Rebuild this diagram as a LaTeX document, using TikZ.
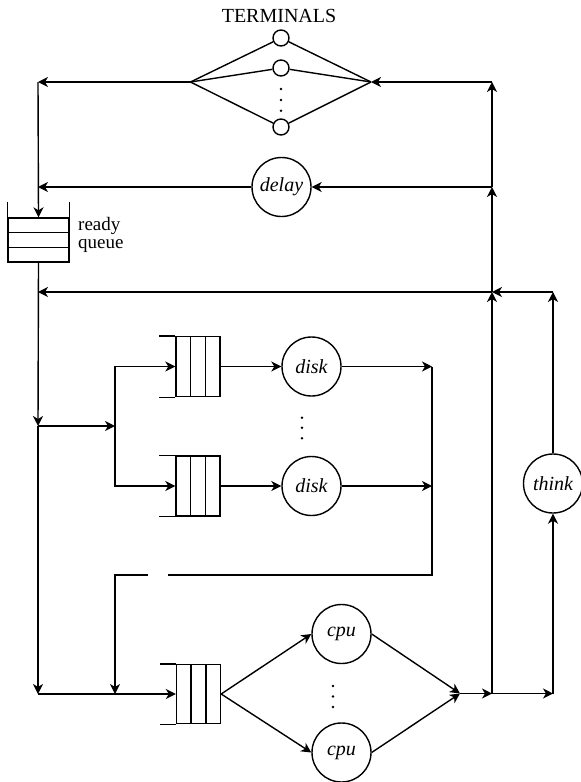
\documentclass[tikz,border=0pt]{standalone}
\usepackage{fontspec}
\setmainfont{Liberation Serif}
\usetikzlibrary{arrows.meta,calc}
\tikzset{
  arr/.style={-{Stealth[length=10pt,width=10pt,inset=3pt]}},
  srv/.style={circle,draw,minimum size=59pt,inner sep=0pt,font=\fontsize{20}{24}\selectfont\itshape},
  term/.style={circle,draw,minimum size=16pt,inner sep=0pt},
  qbox/.style={rectangle,draw,minimum width=44pt,minimum height=60pt,inner sep=0pt},
  lbl/.style={inner sep=0pt,font=\fontsize{20}{24}\selectfont},
}
\newcommand\qextra[1]{%
  \draw (#1.north west) -- ++(-16,0);
  \draw (#1.south west) -- ++(-16,0);
  \draw ($(#1.north west)!1/3!(#1.north east)$) -- ($(#1.south west)!1/3!(#1.south east)$);
  \draw ($(#1.north west)!2/3!(#1.north east)$) -- ($(#1.south west)!2/3!(#1.south east)$);
}
\begin{document}
\begin{tikzpicture}[x=1pt,y=-1pt,line width=1.4pt]
\useasboundingbox (0,0) rectangle (581,782);

% terminals
\node[lbl,anchor=base] (termlbl) at (279,22) {TERMINALS};
\node[term] (tc1) at (281,38) {};
\node[term] (tc2) at (281,68) {};
\node[term] (tc3) at (281,127) {};
\coordinate (tl) at (190.5,82);
\coordinate (tr) at (371,82);
\draw (tl) -- (tc1) -- (tr);
\draw (tl) -- (tc2) -- (tr);
\draw (tl) -- (tc3) -- (tr);
\fill (281,89) circle[radius=1.4pt];
\fill (281,100) circle[radius=1.4pt];
\fill (281,110.7) circle[radius=1.4pt];

% delay
\node[srv] (delay) at (281.5,187) {delay};

% ready queue
\node[rectangle,draw,minimum width=61pt,minimum height=44pt,inner sep=0pt] (rq) at (38.5,240) {};
\draw (rq.north west) -- ++(0,-15);
\draw (rq.north east) -- ++(0,-15);
\draw ($(rq.north west)!1/3!(rq.south west)$) -- ($(rq.north east)!1/3!(rq.south east)$);
\draw ($(rq.north west)!2/3!(rq.south west)$) -- ($(rq.north east)!2/3!(rq.south east)$);
\node[inner sep=0pt,font=\fontsize{19}{17.5}\selectfont,align=left,anchor=north west] (rqlbl) at (77.5,217) {ready\\queue};

% coordinates
\coordinate (a1) at (38,82);
\coordinate (a2) at (38,187);
\coordinate (b1) at (492,82);
\coordinate (b2) at (492,187);
\coordinate (b3) at (492,292);
\coordinate (b4) at (492,693.5);
\coordinate (t1) at (553,292);
\coordinate (t2) at (553,693.5);
\coordinate (c3) at (38,292);
\coordinate (c4) at (38,426);
\coordinate (c5) at (38,694);
\coordinate (d1) at (115,426);

% disk section
\node[qbox] (dq1) at (198,366.5) {};
\node[qbox] (dq2) at (198,486) {};
\qextra{dq1}
\qextra{dq2}
\node[srv] (disk1) at (311.5,366.5) {disk};
\node[srv] (disk2) at (311.5,486) {disk};
\fill (302,417.7) circle[radius=1.4pt];
\fill (302,427.7) circle[radius=1.4pt];
\fill (302,438.3) circle[radius=1.4pt];
\coordinate (e1) at (432,366.5);
\coordinate (e2) at (432,486);
\coordinate (e3) at (432,575);
\coordinate (g1) at (168,575);
\coordinate (g2) at (148,575);
\coordinate (f1) at (115,575);
\coordinate (f2) at (115,694);

% cpu section
\node[qbox,minimum height=59pt] (cq) at (198.5,694) {};
\qextra{cq}
\node[srv] (cpu1) at (341.5,634) {cpu};
\node[srv] (cpu2) at (341.5,752.5) {cpu};
\fill (333,686) circle[radius=1.4pt];
\fill (333,696.5) circle[radius=1.4pt];
\fill (333,707) circle[radius=1.4pt];
\coordinate (j) at (460,693.5);

% think
\node[srv] (think) at (553,483.5) {think};

% connectors
\draw[arr] (tl) -- (a1);
\draw[arr] (a1) -- (rq.north);
\draw[arr] (delay.west) -- (a2);
\draw[arr] (b1) -- (tr);
\draw[arr] (b2) -- (b1);
\draw[arr] (b2) -- (delay.east);
\draw[arr] (b3) -- (b2);
\draw[arr] (b4) -- (b3);
\draw[arr] (b3) -- (c3);
\draw[arr] (t1) -- (b3);
\draw[arr] (think.north) -- (t1);
\draw[arr] (rq.south) -- (c4);
\draw[arr] (c4) -- (c5);
\draw[arr] (c5) -- (cq.west);
\draw[arr] (c4) -- (d1);
\draw[arr] (d1) |- (dq1.west);
\draw[arr] (d1) |- (dq2.west);
\draw[arr] (dq1.east) -- (disk1.west);
\draw[arr] (dq2.east) -- (disk2.west);
\draw[arr] (disk1.east) -- (e1);
\draw[arr] (disk2.east) -- (e2);
\draw (e1) -- (e3) -- (g1);
\draw[arr] (g2) -- (f1) -- (f2);
\draw[arr] (cq.east) -- (cpu1.west);
\draw[arr] (cq.east) -- (cpu2.west);
\draw[arr] (cpu1.east) -- (j);
\draw[arr] (cpu2.east) -- (j);
\draw[arr] (j) -- (b4);
\draw[arr] (b4) -- (t2);
\draw[arr] (t2) -- (think.south);
\end{tikzpicture}
\end{document}
